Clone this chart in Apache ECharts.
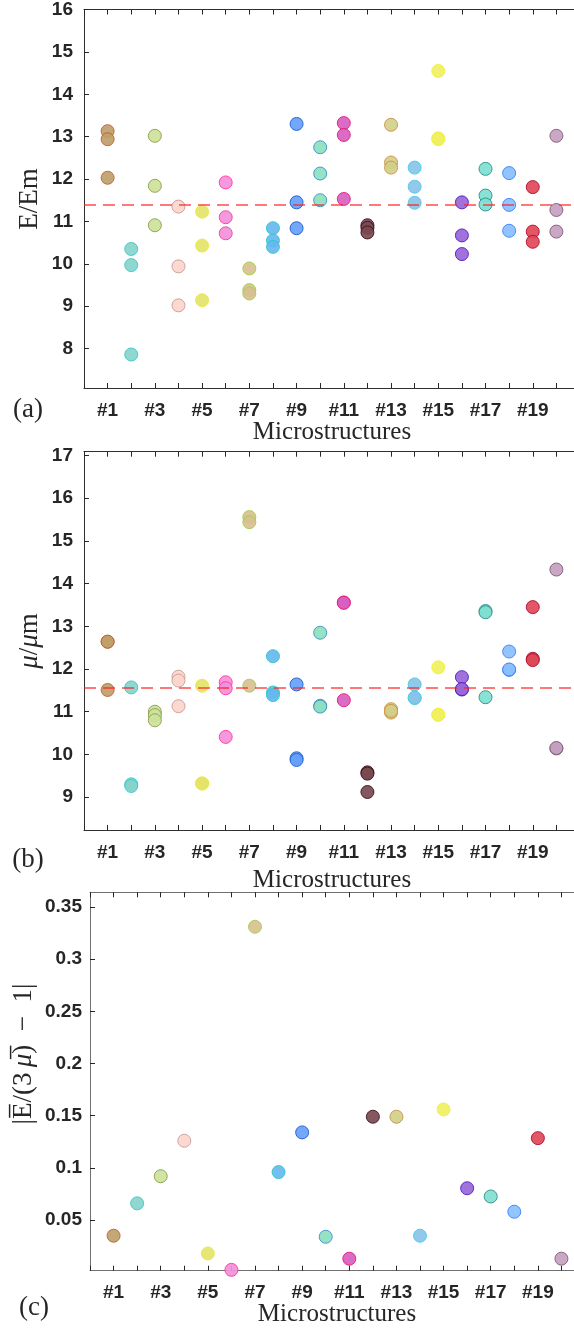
<!DOCTYPE html>
<html><head><meta charset="utf-8">
<script src="https://cdn.jsdelivr.net/npm/echarts@6/dist/echarts.min.js"></script>
<style>html,body{margin:0;padding:0;background:#fff}#c{width:574px;height:1332px}</style>
</head><body><div id="c"></div><script>
// ---------- data ----------
const ids = [1,2,3,4,5,6,7,8,9,10,11,12,13,14,15,16,17,18,19,20];
const xTickLabels = ['#1','#3','#5','#7','#9','#11','#13','#15','#17','#19'];
const eRatio = [
  [13.13,12.94,12.03],[10.35,9.97,7.86],[13.02,11.84,10.91],[11.35,9.94,9.02],[11.23,10.43,9.14],
  [11.92,11.10,10.72],[9.89,9.38,9.30],[10.84,10.55,10.40],[13.30,11.45,10.84],[12.75,12.13,11.50],
  [13.32,13.04,11.53],[10.91,10.85,10.74],[13.28,12.39,12.27],[12.27,11.82,11.44],[14.55,12.96,12.94],
  [11.45,10.67,10.23],[12.24,11.61,11.40],[12.14,11.39,10.78],[11.81,10.76,10.52],[13.02,11.27,10.76]
];
const muRatio = [
  [12.64,11.51,12.64],[11.57,9.30,9.26],[11.00,10.92,10.80],[11.82,11.73,11.13],[11.61,9.32,9.32],
  [11.69,11.55,10.41],[15.56,15.44,11.61],[12.30,11.45,11.39],[11.64,9.91,9.87],[12.85,11.14,11.12],
  [13.56,13.55,11.27],[9.58,9.55,9.12],[11.06,10.98,11.02],[11.64,11.32,11.33],[12.04,10.93,10.93],
  [11.81,11.52,11.53],[13.36,13.33,11.34],[12.41,11.98,11.99],[13.45,12.24,12.21],[14.33,10.14,10.15]
];
const deviation = [0.035,0.066,0.092,0.126,0.018,0.0023,0.331,0.096,0.134,0.034,
                   0.013,0.149,0.149,0.035,0.156,0.0805,0.0726,0.058,0.1285,0.013];
const eMean = 11.39;
const muMean = 11.55;
const eTicks = [8,9,10,11,12,13,14,15,16];
const muTicks = [9,10,11,12,13,14,15,16,17];
const devTicks = [0.05,0.1,0.15,0.2,0.25,0.3,0.35];
const fillColors = ['#bf9f6a','#87d4cc','#cde29a','#fcd5cc','#e4e46a','#f490dc','#d8c090','#66b8f0','#66a0f8','#8ce0c0',
                    '#d860c0','#7a4a50','#d0d08a','#88c4e8','#f0f060','#9a66d8','#80e0d4','#88c0ff','#e04858','#c4a0c0'];
const edgeColors = ['#c8602a','#3cc8c8','#8aa050','#c8a098','#e8e840','#ff3c9c','#a0d050','#30c8c8','#2060d0','#4090c8',
                    '#e0207c','#401020','#d09040','#50c8e8','#f0f040','#5020c8','#30908a','#4080f8','#b01030','#806078'];

// ---------- chart ----------
const chart = echarts.init(document.getElementById('c'), null, {renderer:'canvas'});
const tickFont = {fontFamily:'Liberation Sans', fontWeight:'bold', fontSize:19, color:'#262626'};
const serif = 'Liberation Serif';

function pts(vals){
  const out = [];
  ids.forEach((id,i)=>{
    const arr = Array.isArray(vals[i]) ? vals[i] : [vals[i]];
    arr.forEach(v=>out.push({value:[id,v], itemStyle:{color:fillColors[i], borderColor:edgeColors[i]}}));
  });
  return out;
}
const grids = [
  {left:84, top:9.5, width:496, height:378.5, outerBoundsMode:'none', containLabel:false},
  {left:84, top:451.7, width:496, height:378.3, outerBoundsMode:'none', containLabel:false},
  {left:90, top:892.3, width:495, height:378.4, outerBoundsMode:'none', containLabel:false}
];
const lineCol = ['#303030','#303030','#707070'];
const xAxes = [], yAxes = [];
grids.forEach((g,gi)=>{
  xAxes.push({gridIndex:gi, type:'value', min:0, max:21, interval:1, position:'bottom',
    axisLine:{show:true, onZero:false, lineStyle:{color:lineCol[gi], width:1}},
    axisTick:{show:true, inside:true, length:5, lineStyle:{color:'#262626'}},
    axisLabel:{...tickFont, margin:13, formatter:v=>{const s='#'+v; return xTickLabels.includes(s)?s:'';}},
    splitLine:{show:false}});
  xAxes.push({gridIndex:gi, type:'value', min:0, max:21, interval:1, position:'top',
    axisLine:{show:true, onZero:false, lineStyle:{color:lineCol[gi], width:1}},
    axisTick:{show:true, inside:true, length:5, lineStyle:{color:'#262626'}},
    axisLabel:{show:false}, splitLine:{show:false}});
});
const yCfg = [
  {min:7.07, max:16, ticks:eTicks, margin:11},
  {min:8.23, max:17.09, ticks:muTicks, margin:11},
  {min:0.0015, max:0.364, ticks:devTicks, margin:8}
];
yCfg.forEach((c,gi)=>{
  yAxes.push({gridIndex:gi, type:'value', min:c.min, max:c.max, position:'left',
    axisLine:{show:true, onZero:false, lineStyle:{color:lineCol[gi], width:1}},
    axisTick:{show:true, inside:true, length:5, customValues:c.ticks, lineStyle:{color:'#262626'}},
    axisLabel:{...tickFont, margin:c.margin, customValues:c.ticks},
    splitLine:{show:false}});
});
const dashed = {type:[12,7], color:'rgba(255,30,30,0.8)', width:1.5};
const series = [
  {type:'scatter', xAxisIndex:0, yAxisIndex:0, symbolSize:13, data:pts(eRatio),
   itemStyle:{borderWidth:1, opacity:0.92},
   markLine:{silent:true, symbol:'none', label:{show:false}, lineStyle:dashed, data:[{yAxis:eMean}]}},
  {type:'scatter', xAxisIndex:2, yAxisIndex:1, symbolSize:13, data:pts(muRatio),
   itemStyle:{borderWidth:1, opacity:0.92},
   markLine:{silent:true, symbol:'none', label:{show:false}, lineStyle:dashed, data:[{yAxis:muMean}]}},
  {type:'scatter', xAxisIndex:4, yAxisIndex:2, symbolSize:13, data:pts(deviation),
   itemStyle:{borderWidth:1, opacity:0.92}}
];
function txt(x,y,text,size,rot,rich){
  return {type:'text', x:x, y:y, rotation:rot||0,
    style:{text:text, font:size+'px "'+serif+'"', fill:'#262626', align:'center', verticalAlign:'middle', rich:rich}};
}
const italic = {i:{fontStyle:'italic', fontFamily:serif, fontSize:27, fill:'#262626'}, n:{fontFamily:serif, fontSize:27, fill:'#262626'}};
const graphic = [
  txt(28,410,'(a)',27), txt(332,432,'Microstructures',25),
  txt(28,860,'(b)',27), txt(332,880,'Microstructures',25),
  txt(34,1308,'(c)',27), txt(337,1314,'Microstructures',25),
  txt(30,199,'E/Em',27,Math.PI/2),
  txt(30,641,'{i|μ}{n|/}{i|μ}{n|m}',27,Math.PI/2,italic),
  txt(24,1054,'|E\u0305/(3\u2009{i|μ\u0305})\u2002−\u20021|',27,Math.PI/2,italic)
];
chart.setOption({animation:false, grid:grids, xAxis:xAxes, yAxis:yAxes, series:series, graphic:graphic});
</script></body></html>
